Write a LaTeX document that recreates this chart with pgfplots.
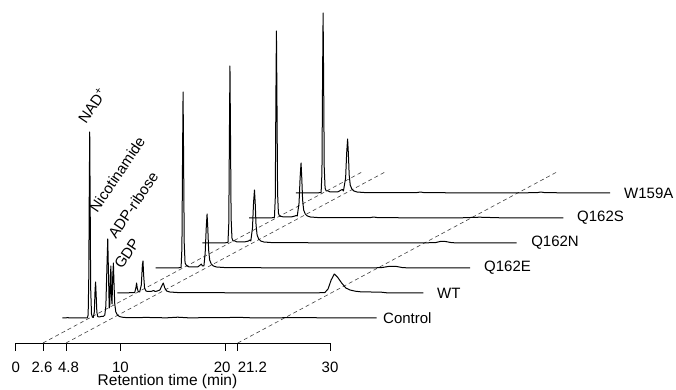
\documentclass[border=0pt]{standalone}
\usepackage{fontspec}
\setmainfont{Liberation Sans}
\usepackage{pgfplots}
\usepackage{pgfplotstable}
\pgfplotsset{compat=1.18}

\pgfplotstableread{
t h
0 0
0.5 0.3
1.0 0
1.5 0.2
2.0 0
2.38 0
2.46 3
2.52 40
2.57 130
2.61 186
2.65 120
2.70 30
2.78 4
2.86 1
2.95 0.5
3.05 6
3.12 28
3.17 36
3.22 24
3.29 6
3.37 1.5
3.50 1
3.70 1.5
3.90 1.5
4.05 3
4.15 12
4.25 50
4.33 79
4.40 45
4.47 10
4.52 12
4.58 40
4.63 52
4.69 20
4.74 14
4.80 40
4.87 55
4.93 34
5.00 14
5.10 6
5.25 3
5.45 1.5
5.7 0.8
6.0 0.5
7 0.3
8 0.6
9 0.3
10 0.2
11 0.8
12 0.2
14 0.3
17 0.6
18 0.2
20 0.1
22 0.4
25 0.2
28 0.1
30 0
}\ctrl

\pgfplotstableread{
t h
0.8 0
1.5 0
2.0 0.3
2.45 0.5
2.56 5
2.63 10
2.69 5
2.78 1.5
2.92 1
3.08 8
3.18 28
3.24 32
3.30 18
3.39 5
3.52 2
3.70 1.5
4.00 1.5
4.25 2.5
4.40 1.5
4.60 2
4.85 3
5.03 7
5.18 10
5.32 5
5.50 2
5.80 1
6.5 0.5
8 0.3
10 0.3
12 0.2
15 0.2
18 0.1
20 0.2
20.6 0.5
20.9 4
21.2 13
21.5 19
21.8 16
22.2 10
22.6 5
23.0 3
23.5 1.8
24 1.2
25 1
26 0.8
26.5 0.2
28 0
30 0
}\wt

\pgfplotstableread{
t h
0 0
2.0 0
2.42 0.5
2.50 20
2.56 110
2.61 176
2.66 110
2.72 25
2.80 5
2.90 3
3.00 2
3.20 1
3.60 1
4.00 1
4.25 3
4.35 4
4.45 2
4.60 2
4.72 15
4.82 40
4.90 54
4.97 40
5.05 18
5.15 8
5.30 4
5.50 2
5.80 1
6.5 0.5
8 0.3
12 0.2
15 0.2
20 0.1
21.5 0.3
22.2 1.5
23.0 1.5
23.6 0.3
25 0
30 0
}\qe

\pgfplotstableread{
t h
0 0
2.0 0
2.44 0.5
2.52 20
2.58 110
2.63 177
2.68 110
2.74 25
2.82 5
2.92 2
3.10 2
3.30 1
4.00 1
4.40 2
4.52 3
4.62 2
4.78 15
4.88 40
4.97 53
5.04 40
5.12 18
5.22 8
5.37 4
5.57 2
5.87 1
6.5 0.5
8 0.3
12 0.2
16 0.2
20 0.1
22.2 0.3
22.7 1.5
23.2 1.5
23.8 0.3
25 0
30 0
}\qn

\pgfplotstableread{
t h
0 0
2.0 0
2.42 0.5
2.50 20
2.56 120
2.61 187
2.66 120
2.72 25
2.80 5
2.90 2
3.10 1.5
3.30 1
4.00 1
4.38 2
4.50 2.5
4.60 2
4.77 15
4.87 40
4.96 55
5.03 40
5.11 18
5.21 8
5.36 4
5.56 2
5.86 1
6.5 0.5
8 0.3
11.5 0.3
11.9 1
12.3 0.3
16 0.2
20 0.1
22 0.8
24 0.2
30 0
}\qs

\pgfplotstableread{
t h
0 0
2.0 0
2.42 0.5
2.50 20
2.56 115
2.61 180
2.66 115
2.72 25
2.80 5
2.90 2
3.10 2
3.30 1
4.00 1
4.33 3
4.45 3.5
4.55 2
4.76 15
4.86 40
4.95 54
5.02 40
5.10 18
5.20 8
5.35 4
5.55 2
5.85 1
6.5 0.5
8 0.3
11.5 0.3
11.9 1
12.3 0.3
16 0.2
20 0.1
23.0 0.3
23.4 1
23.8 0.3
30 0
}\wa

\def\dx{4.455}
\tikzset{trace/.style={black, line width=1pt, mark=none, solid, line join=round},
         guide/.style={black!75, line width=0.6pt, mark=none, dash pattern=on 4pt off 3pt}}

\begin{document}
\begin{tikzpicture}[font=\fontsize{15}{18}\selectfont]
\useasboundingbox (0,0) rectangle (676pt,390pt);
\begin{axis}[
  at={(15.7pt,47pt)}, anchor=south west,
  x=10.477pt, y=1pt,
  xmin=0, xmax=30, ymin=47, ymax=390,
  clip=false,
  axis x line=bottom, axis y line=none,
  x axis line style={-, line width=0.8pt},
  xtick={0,2.6,4.8,10,20,21.2,30},
  xticklabels={0,\makebox[0pt]{2.6\hspace*{2pt}},\makebox[0pt]{\hspace*{5pt}4.8},10,\makebox[0pt]{20\hspace*{6pt}},\rlap{21.2},30},
  xtick align=outside,
  major tick length=8pt,
  xtick style={black, line width=0.8pt},
  ytick=\empty,
  tick label style={font=\fontsize{15}{18}\selectfont},
  xticklabel style={yshift=-7pt},
  xlabel={Retention time (min)},
  xlabel style={at={(axis description cs:0.483,0)}, anchor=center, yshift=-38.5pt,
                font=\fontsize{15.5}{18}\selectfont},
]
% dashed guide lines
\addplot[guide] coordinates {(2.6,47) (33.0,217.7)};
\addplot[guide] coordinates {(4.8,47) (35.2,217.7)};
\addplot[guide] coordinates {(21.2,47) (51.6,217.7)};

\addplot[trace] table[x expr=\thisrow{t}+1*\dx, y expr=\thisrow{h}+72] {\ctrl};
\addplot[trace] table[x expr=\thisrow{t}+2*\dx, y expr=\thisrow{h}+97] {\wt};
\addplot[trace] table[x expr=\thisrow{t}+3*\dx, y expr=\thisrow{h}+122] {\qe};
\addplot[trace] table[x expr=\thisrow{t}+4*\dx, y expr=\thisrow{h}+147] {\qn};
\addplot[trace] table[x expr=\thisrow{t}+5*\dx, y expr=\thisrow{h}+172] {\qs};
\addplot[trace] table[x expr=\thisrow{t}+6*\dx, y expr=\thisrow{h}+197] {\wa};

\node[anchor=west, inner sep=0pt] at (axis cs:35.06,72) {Control};
\node[anchor=west, inner sep=0pt] at (axis cs:40.21,97) {WT};
\node[anchor=west, inner sep=0pt] at (axis cs:44.70,122) {Q162E};
\node[anchor=west, inner sep=0pt] at (axis cs:49.19,147) {Q162N};
\node[anchor=west, inner sep=0pt] at (axis cs:53.57,172) {Q162S};
\node[anchor=west, inner sep=0pt] at (axis cs:58.06,197) {W159A};

\node[anchor=base west, inner sep=0pt, rotate=56] at (axis cs:6.71,265) {NAD\textsuperscript{+}};
\node[anchor=base west, inner sep=0pt, rotate=56] at (axis cs:7.79,176.7) {Nicotinamide};
\node[anchor=base west, inner sep=0pt, rotate=56] at (axis cs:9.57,150) {ADP-ribose};
\node[anchor=base west, inner sep=0pt, rotate=56] at (axis cs:10.15,120) {GDP};
\end{axis}
\end{tikzpicture}
\end{document}
